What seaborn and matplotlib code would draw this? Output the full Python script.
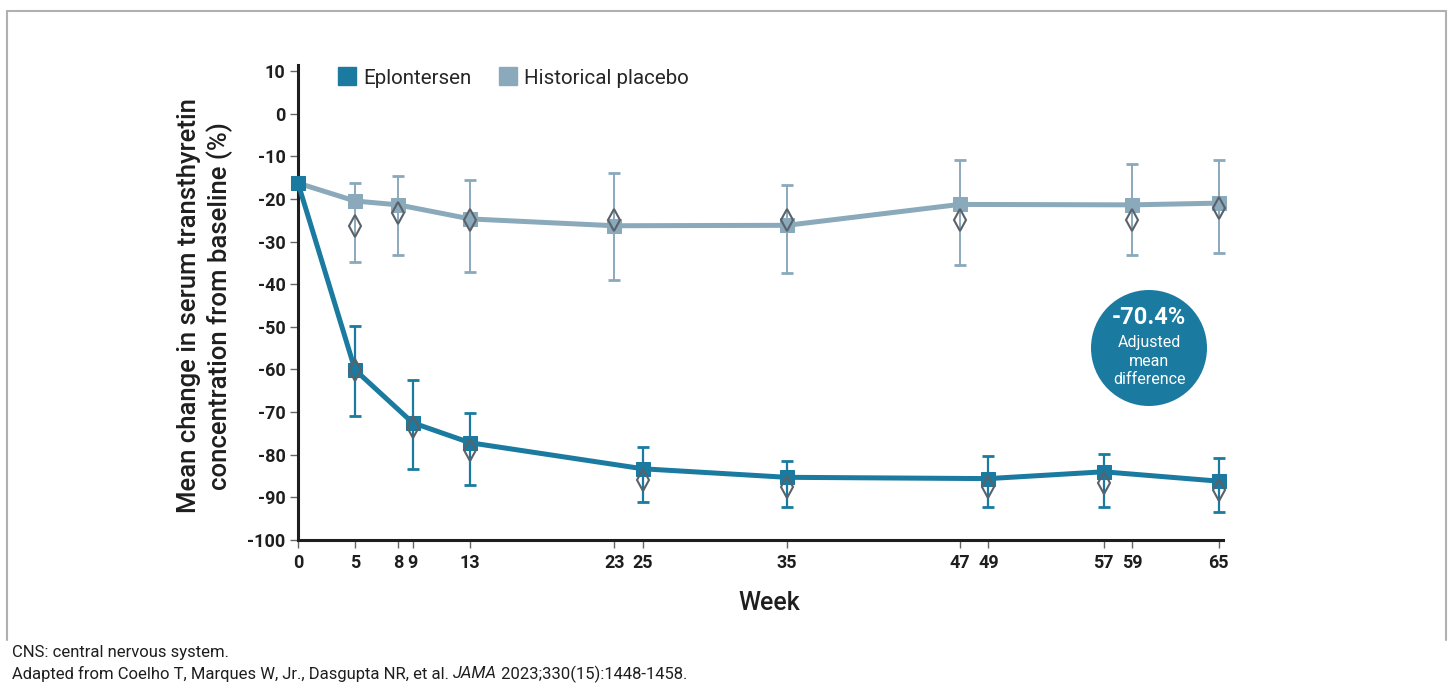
import numpy as np
import pandas as pd
import matplotlib
matplotlib.use("Agg")
import matplotlib.pyplot as plt
import seaborn as sns
from matplotlib.lines import Line2D
from matplotlib.patches import Ellipse

# Eplontersen (mean, 95% CI, historical-style diamonds)
epl_week = [0, 5, 9, 13, 25, 35, 49, 57, 65]
epl_mean = [-16.3, -60.1, -72.5, -77.2, -83.3, -85.3, -85.6, -84.0, -86.2]
epl_lo = [np.nan, -70.9, -83.3, -87.2, -91.1, -92.2, -92.2, -92.2, -93.4]
epl_hi = [np.nan, -49.8, -62.5, -70.2, -78.2, -81.4, -80.2, -79.8, -80.8]
epl_diam = [np.nan, -60.1, -73.4, -78.9, -85.9, -87.5, -87.5, -86.7, -88.3]

# Historical placebo
plc_week = [0, 5, 8, 13, 23, 35, 47, 59, 65]
plc_mean = [-16.3, -20.5, -21.4, -24.7, -26.3, -26.2, -21.3, -21.4, -21.0]
plc_lo = [np.nan, -34.8, -33.2, -37.1, -39.0, -37.4, -35.5, -33.2, -32.6]
plc_hi = [np.nan, -16.3, -14.6, -15.6, -13.9, -16.7, -10.9, -11.8, -10.9]
plc_diam = [np.nan, -26.3, -23.3, -24.9, -25.0, -24.9, -24.9, -24.9, -22.2]

x_ticks = [0, 5, 8, 9, 13, 23, 25, 35, 47, 49, 57, 59, 65]
y_ticks = list(range(10, -101, -10))

EPL_COL = "#1a7a9f"
PLC_COL = "#8aa9bb"
DIAM_COL = "#5a6169"

W, H = 1448, 684

sns.set_theme(style="white")
plt.rcParams["font.family"] = ["Roboto", "DejaVu Sans"]


def px(x):
    return x / W


def py(y):
    return 1 - y / H


# the original axis squeezes weeks 0-5 a little
def fwd(x):
    x = np.asarray(x, dtype=float)
    return np.where(x < 5, x * 0.7928, x - 1.036)


def inv(y):
    y = np.asarray(y, dtype=float)
    return np.where(y < 3.964, y / 0.7928, y + 1.036)


fig = plt.figure(figsize=(W / 100, H / 100), dpi=100)
ax = fig.add_axes([px(298), py(540), px(1223) - px(298), py(65) - py(540)])
ax.set_xscale("function", functions=(fwd, inv))

# placebo
ax.errorbar(plc_week, plc_mean,
            yerr=[np.array(plc_mean) - np.array(plc_lo), np.array(plc_hi) - np.array(plc_mean)],
            fmt="none", ecolor=PLC_COL, elinewidth=1.4, capsize=4, capthick=2, zorder=2, clip_on=False)
sns.lineplot(x=plc_week, y=plc_mean, ax=ax, color=PLC_COL, lw=3.6, marker="s",
             markersize=10, markeredgecolor=PLC_COL, zorder=3, clip_on=False)

# eplontersen
ax.errorbar(epl_week, epl_mean,
            yerr=[np.array(epl_mean) - np.array(epl_lo), np.array(epl_hi) - np.array(epl_mean)],
            fmt="none", ecolor=EPL_COL, elinewidth=1.6, capsize=4, capthick=2, zorder=4, clip_on=False)
sns.lineplot(x=epl_week, y=epl_mean, ax=ax, color=EPL_COL, lw=3.6, marker="s",
             markersize=10, markeredgecolor=EPL_COL, zorder=5, clip_on=False)

# open diamonds
ax.plot(plc_week, plc_diam, ls="none", marker="d", markersize=11, mfc="none",
        mec=DIAM_COL, mew=1.5, zorder=6, clip_on=False)
ax.plot(epl_week, epl_diam, ls="none", marker="d", markersize=11, mfc="none",
        mec=DIAM_COL, mew=1.5, zorder=6, clip_on=False)

ax.set_xlim(0, 65.3)
ax.set_ylim(-100, 11.4)
ax.set_xticks(x_ticks)
ax.set_xticklabels([str(t) for t in x_ticks])
ax.set_yticks(y_ticks)
ax.set_yticklabels([str(t) for t in y_ticks])
ax.tick_params(axis="both", which="both", direction="out", length=6, width=1,
               color="#666666", labelsize=13, labelcolor="#1e1e1e", pad=3,
               left=True, bottom=True)
ax.tick_params(axis="x", pad=4)
for lab in ax.get_xticklabels() + ax.get_yticklabels():
    lab.set_fontweight("bold")

sns.despine(ax=ax)
for side in ["left", "bottom"]:
    ax.spines[side].set_color("#1e1e1e")
    ax.spines[side].set_linewidth(2.2)
ax.set_xlabel("")
ax.set_ylabel("")

# axis titles
fig.text(px(205), py(306), "Mean change in serum transthyretin\nconcentration from baseline (%)",
         rotation=90, ha="center", va="center", fontsize=18.5, fontweight="medium",
         color="#1e1e1e", linespacing=1.3)
fig.text(px(769), py(603), "Week", ha="center", va="center", fontsize=18,
         fontweight="medium", color="#1e1e1e")

# legend
handles = [Line2D([], [], ls="none", marker="s", markersize=13.5, mfc=EPL_COL, mec=EPL_COL),
           Line2D([], [], ls="none", marker="s", markersize=13.5, mfc=PLC_COL, mec=PLC_COL)]
fig.legend(handles, ["Eplontersen", "Historical placebo"], loc="center left",
           bbox_to_anchor=(px(338), py(78)), ncol=2, frameon=False, fontsize=14.8,
           handlelength=0.9, handletextpad=0.35, columnspacing=1.3, borderpad=0,
           borderaxespad=0)

# adjusted difference bubble
fig.patches.append(Ellipse((px(1149), py(348)), 116 / W, 116 / H, transform=fig.transFigure,
                           facecolor=EPL_COL, edgecolor="none", zorder=10))
fig.text(px(1149), py(318), "-70.4%", ha="center", va="center", fontsize=17,
         fontweight="bold", color="white", zorder=11)
fig.text(px(1149), py(361), "Adjusted\nmean\ndifference", ha="center", va="center",
         fontsize=11.5, color="white", linespacing=1.25, zorder=11)

# outer frame
frame_kw = dict(transform=fig.transFigure, color="#b0b0b0", lw=1.5)
fig.lines.append(Line2D([px(7), px(7)], [py(640), py(11)], **frame_kw))
fig.lines.append(Line2D([px(7), px(1446)], [py(11), py(11)], **frame_kw))
fig.lines.append(Line2D([px(1446), px(1446)], [py(11), py(640)], **frame_kw))

# footnotes
foot_font = ["Roboto", "DejaVu Sans"]
fig.text(px(12), py(653), "CNS: central nervous system.", ha="left", va="center",
         fontsize=12, family=foot_font, color="#1e1e1e")
renderer = fig.canvas.get_renderer()
parts = [("Adapted from Coelho T, Marques W, Jr., Dasgupta NR, et al. ", "normal"),
         ("JAMA", "italic"),
         (" 2023;330(15):1448-1458.", "normal")]
x0 = 12
for txt, style in parts:
    t = fig.text(px(x0), py(674), txt, ha="left", va="center", fontsize=12,
                 family=foot_font, style=style, color="#1e1e1e")
    bb = t.get_window_extent(renderer=renderer)
    x0 += bb.width

fig.savefig("out.png", dpi=100)
